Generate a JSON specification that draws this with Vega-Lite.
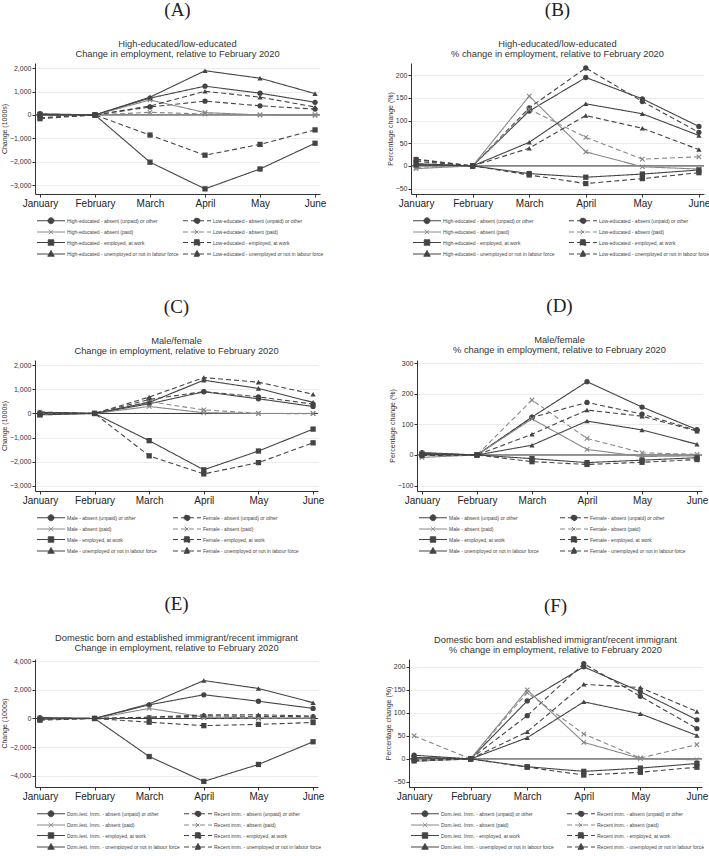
{
"$schema": "https://vega.github.io/schema/vega-lite/v6.json",
"background": "white",
"padding": {"left": 0, "top": 0, "right": 0, "bottom": 0},
"config": {
  "font": "Liberation Sans",
  "view": {"stroke": null},
  "axis": {"domainColor": "#333", "tickColor": "#333", "tickSize": 3, "labelColor": "#333", "titleColor": "#333", "titleFontWeight": "normal", "grid": false},
  "axisX": {"labelFontSize": 10, "labelPadding": 1, "labelAngle": 0, "labelColor": "#222"},
  "axisY": {"grid": true, "gridColor": "#ececec", "labelFontSize": 7, "titleFontSize": 7, "labelPadding": 1, "titlePadding": 2, "labelOverlap": false, "tickCount": 12},
  "title": {"font": "Liberation Serif", "fontSize": 19, "fontWeight": "normal", "color": "#222", "subtitleFont": "Liberation Sans", "subtitleFontSize": 9.3, "subtitleColor": "#333", "subtitleLineHeight": 10, "subtitlePadding": 20, "offset": 0, "anchor": "middle"},
  "legend": {"orient": "bottom", "offset": 7, "columns": 2, "symbolSize": 100, "labelFontSize": 5, "labelColor": "#444", "labelOffset": 21, "rowPadding": 0.5, "columnPadding": 6, "symbolStrokeWidth": 1, "labelLimit": 0, "padding": 0}
},
"datasets": {
"A": [
{"series":"High-educated - absent (unpaid) or other","month":"January","value":50},{"series":"High-educated - absent (unpaid) or other","month":"February","value":0},{"series":"High-educated - absent (unpaid) or other","month":"March","value":720},{"series":"High-educated - absent (unpaid) or other","month":"April","value":1230},{"series":"High-educated - absent (unpaid) or other","month":"May","value":930},{"series":"High-educated - absent (unpaid) or other","month":"June","value":540},
{"series":"Low-educated - absent (unpaid) or other","month":"January","value":-20},{"series":"Low-educated - absent (unpaid) or other","month":"February","value":0},{"series":"Low-educated - absent (unpaid) or other","month":"March","value":340},{"series":"Low-educated - absent (unpaid) or other","month":"April","value":590},{"series":"Low-educated - absent (unpaid) or other","month":"May","value":390},{"series":"Low-educated - absent (unpaid) or other","month":"June","value":250},
{"series":"High-educated - absent (paid)","month":"January","value":20},{"series":"High-educated - absent (paid)","month":"February","value":0},{"series":"High-educated - absent (paid)","month":"March","value":640},{"series":"High-educated - absent (paid)","month":"April","value":100},{"series":"High-educated - absent (paid)","month":"May","value":0},{"series":"High-educated - absent (paid)","month":"June","value":-20},
{"series":"Low-educated - absent (paid)","month":"January","value":-20},{"series":"Low-educated - absent (paid)","month":"February","value":0},{"series":"Low-educated - absent (paid)","month":"March","value":110},{"series":"Low-educated - absent (paid)","month":"April","value":40},{"series":"Low-educated - absent (paid)","month":"May","value":0},{"series":"Low-educated - absent (paid)","month":"June","value":10},
{"series":"High-educated - employed, at work","month":"January","value":20},{"series":"High-educated - employed, at work","month":"February","value":0},{"series":"High-educated - employed, at work","month":"March","value":-2020},{"series":"High-educated - employed, at work","month":"April","value":-3160},{"series":"High-educated - employed, at work","month":"May","value":-2310},{"series":"High-educated - employed, at work","month":"June","value":-1210},
{"series":"Low-educated - employed, at work","month":"January","value":-160},{"series":"Low-educated - employed, at work","month":"February","value":0},{"series":"Low-educated - employed, at work","month":"March","value":-860},{"series":"Low-educated - employed, at work","month":"April","value":-1720},{"series":"Low-educated - employed, at work","month":"May","value":-1260},{"series":"Low-educated - employed, at work","month":"June","value":-640},
{"series":"High-educated - unemployed or not in labour force","month":"January","value":0},{"series":"High-educated - unemployed or not in labour force","month":"February","value":0},{"series":"High-educated - unemployed or not in labour force","month":"March","value":760},{"series":"High-educated - unemployed or not in labour force","month":"April","value":1890},{"series":"High-educated - unemployed or not in labour force","month":"May","value":1570},{"series":"High-educated - unemployed or not in labour force","month":"June","value":910},
{"series":"Low-educated - unemployed or not in labour force","month":"January","value":-120},{"series":"Low-educated - unemployed or not in labour force","month":"February","value":0},{"series":"Low-educated - unemployed or not in labour force","month":"March","value":380},{"series":"Low-educated - unemployed or not in labour force","month":"April","value":1010},{"series":"Low-educated - unemployed or not in labour force","month":"May","value":760},{"series":"Low-educated - unemployed or not in labour force","month":"June","value":340}
],
"B": [
{"series":"High-educated - absent (unpaid) or other","month":"January","value":3},{"series":"High-educated - absent (unpaid) or other","month":"February","value":0},{"series":"High-educated - absent (unpaid) or other","month":"March","value":121},{"series":"High-educated - absent (unpaid) or other","month":"April","value":195},{"series":"High-educated - absent (unpaid) or other","month":"May","value":148},{"series":"High-educated - absent (unpaid) or other","month":"June","value":87},
{"series":"Low-educated - absent (unpaid) or other","month":"January","value":10},{"series":"Low-educated - absent (unpaid) or other","month":"February","value":0},{"series":"Low-educated - absent (unpaid) or other","month":"March","value":128},{"series":"Low-educated - absent (unpaid) or other","month":"April","value":216},{"series":"Low-educated - absent (unpaid) or other","month":"May","value":142},{"series":"Low-educated - absent (unpaid) or other","month":"June","value":74},
{"series":"High-educated - absent (paid)","month":"January","value":-6},{"series":"High-educated - absent (paid)","month":"February","value":0},{"series":"High-educated - absent (paid)","month":"March","value":154},{"series":"High-educated - absent (paid)","month":"April","value":31},{"series":"High-educated - absent (paid)","month":"May","value":-2},{"series":"High-educated - absent (paid)","month":"June","value":-7},
{"series":"Low-educated - absent (paid)","month":"January","value":-3},{"series":"Low-educated - absent (paid)","month":"February","value":0},{"series":"Low-educated - absent (paid)","month":"March","value":125},{"series":"Low-educated - absent (paid)","month":"April","value":63},{"series":"Low-educated - absent (paid)","month":"May","value":15},{"series":"Low-educated - absent (paid)","month":"June","value":20},
{"series":"High-educated - employed, at work","month":"January","value":2},{"series":"High-educated - employed, at work","month":"February","value":0},{"series":"High-educated - employed, at work","month":"March","value":-17},{"series":"High-educated - employed, at work","month":"April","value":-25},{"series":"High-educated - employed, at work","month":"May","value":-18},{"series":"High-educated - employed, at work","month":"June","value":-9},
{"series":"Low-educated - employed, at work","month":"January","value":14},{"series":"Low-educated - employed, at work","month":"February","value":0},{"series":"Low-educated - employed, at work","month":"March","value":-20},{"series":"Low-educated - employed, at work","month":"April","value":-39},{"series":"Low-educated - employed, at work","month":"May","value":-28},{"series":"Low-educated - employed, at work","month":"June","value":-15},
{"series":"High-educated - unemployed or not in labour force","month":"January","value":5},{"series":"High-educated - unemployed or not in labour force","month":"February","value":0},{"series":"High-educated - unemployed or not in labour force","month":"March","value":52},{"series":"High-educated - unemployed or not in labour force","month":"April","value":137},{"series":"High-educated - unemployed or not in labour force","month":"May","value":115},{"series":"High-educated - unemployed or not in labour force","month":"June","value":67},
{"series":"Low-educated - unemployed or not in labour force","month":"January","value":15},{"series":"Low-educated - unemployed or not in labour force","month":"February","value":0},{"series":"Low-educated - unemployed or not in labour force","month":"March","value":39},{"series":"Low-educated - unemployed or not in labour force","month":"April","value":111},{"series":"Low-educated - unemployed or not in labour force","month":"May","value":83},{"series":"Low-educated - unemployed or not in labour force","month":"June","value":36}
],
"C": [
{"series":"Male - absent (unpaid) or other","month":"January","value":30},{"series":"Male - absent (unpaid) or other","month":"February","value":0},{"series":"Male - absent (unpaid) or other","month":"March","value":400},{"series":"Male - absent (unpaid) or other","month":"April","value":900},{"series":"Male - absent (unpaid) or other","month":"May","value":610},{"series":"Male - absent (unpaid) or other","month":"June","value":290},
{"series":"Female - absent (unpaid) or other","month":"January","value":0},{"series":"Female - absent (unpaid) or other","month":"February","value":0},{"series":"Female - absent (unpaid) or other","month":"March","value":580},{"series":"Female - absent (unpaid) or other","month":"April","value":910},{"series":"Female - absent (unpaid) or other","month":"May","value":690},{"series":"Female - absent (unpaid) or other","month":"June","value":390},
{"series":"Male - absent (paid)","month":"January","value":50},{"series":"Male - absent (paid)","month":"February","value":0},{"series":"Male - absent (paid)","month":"March","value":290},{"series":"Male - absent (paid)","month":"April","value":30},{"series":"Male - absent (paid)","month":"May","value":0},{"series":"Male - absent (paid)","month":"June","value":0},
{"series":"Female - absent (paid)","month":"January","value":0},{"series":"Female - absent (paid)","month":"February","value":0},{"series":"Female - absent (paid)","month":"March","value":490},{"series":"Female - absent (paid)","month":"April","value":150},{"series":"Female - absent (paid)","month":"May","value":0},{"series":"Female - absent (paid)","month":"June","value":-10},
{"series":"Male - employed, at work","month":"January","value":-60},{"series":"Male - employed, at work","month":"February","value":0},{"series":"Male - employed, at work","month":"March","value":-1130},{"series":"Male - employed, at work","month":"April","value":-2340},{"series":"Male - employed, at work","month":"May","value":-1560},{"series":"Male - employed, at work","month":"June","value":-650},
{"series":"Female - employed, at work","month":"January","value":-40},{"series":"Female - employed, at work","month":"February","value":0},{"series":"Female - employed, at work","month":"March","value":-1760},{"series":"Female - employed, at work","month":"April","value":-2510},{"series":"Female - employed, at work","month":"May","value":-2040},{"series":"Female - employed, at work","month":"June","value":-1220},
{"series":"Male - unemployed or not in labour force","month":"January","value":40},{"series":"Male - unemployed or not in labour force","month":"February","value":0},{"series":"Male - unemployed or not in labour force","month":"March","value":460},{"series":"Male - unemployed or not in labour force","month":"April","value":1380},{"series":"Male - unemployed or not in labour force","month":"May","value":1040},{"series":"Male - unemployed or not in labour force","month":"June","value":460},
{"series":"Female - unemployed or not in labour force","month":"January","value":60},{"series":"Female - unemployed or not in labour force","month":"February","value":0},{"series":"Female - unemployed or not in labour force","month":"March","value":680},{"series":"Female - unemployed or not in labour force","month":"April","value":1490},{"series":"Female - unemployed or not in labour force","month":"May","value":1300},{"series":"Female - unemployed or not in labour force","month":"June","value":800}
],
"D": [
{"series":"Male - absent (unpaid) or other","month":"January","value":8},{"series":"Male - absent (unpaid) or other","month":"February","value":0},{"series":"Male - absent (unpaid) or other","month":"March","value":124},{"series":"Male - absent (unpaid) or other","month":"April","value":240},{"series":"Male - absent (unpaid) or other","month":"May","value":157},{"series":"Male - absent (unpaid) or other","month":"June","value":83},
{"series":"Female - absent (unpaid) or other","month":"January","value":3},{"series":"Female - absent (unpaid) or other","month":"February","value":0},{"series":"Female - absent (unpaid) or other","month":"March","value":123},{"series":"Female - absent (unpaid) or other","month":"April","value":172},{"series":"Female - absent (unpaid) or other","month":"May","value":134},{"series":"Female - absent (unpaid) or other","month":"June","value":80},
{"series":"Male - absent (paid)","month":"January","value":-8},{"series":"Male - absent (paid)","month":"February","value":0},{"series":"Male - absent (paid)","month":"March","value":118},{"series":"Male - absent (paid)","month":"April","value":18},{"series":"Male - absent (paid)","month":"May","value":-5},{"series":"Male - absent (paid)","month":"June","value":-3},
{"series":"Female - absent (paid)","month":"January","value":5},{"series":"Female - absent (paid)","month":"February","value":0},{"series":"Female - absent (paid)","month":"March","value":180},{"series":"Female - absent (paid)","month":"April","value":54},{"series":"Female - absent (paid)","month":"May","value":7},{"series":"Female - absent (paid)","month":"June","value":2},
{"series":"Male - employed, at work","month":"January","value":2},{"series":"Male - employed, at work","month":"February","value":0},{"series":"Male - employed, at work","month":"March","value":-12},{"series":"Male - employed, at work","month":"April","value":-25},{"series":"Male - employed, at work","month":"May","value":-17},{"series":"Male - employed, at work","month":"June","value":-9},
{"series":"Female - employed, at work","month":"January","value":-2},{"series":"Female - employed, at work","month":"February","value":0},{"series":"Female - employed, at work","month":"March","value":-22},{"series":"Female - employed, at work","month":"April","value":-31},{"series":"Female - employed, at work","month":"May","value":-24},{"series":"Female - employed, at work","month":"June","value":-15},
{"series":"Male - unemployed or not in labour force","month":"January","value":5},{"series":"Male - unemployed or not in labour force","month":"February","value":0},{"series":"Male - unemployed or not in labour force","month":"March","value":32},{"series":"Male - unemployed or not in labour force","month":"April","value":111},{"series":"Male - unemployed or not in labour force","month":"May","value":82},{"series":"Male - unemployed or not in labour force","month":"June","value":35},
{"series":"Female - unemployed or not in labour force","month":"January","value":3},{"series":"Female - unemployed or not in labour force","month":"February","value":0},{"series":"Female - unemployed or not in labour force","month":"March","value":68},{"series":"Female - unemployed or not in labour force","month":"April","value":147},{"series":"Female - unemployed or not in labour force","month":"May","value":127},{"series":"Female - unemployed or not in labour force","month":"June","value":78}
],
"E": [
{"series":"Dom./est. Imm. - absent (unpaid) or other","month":"January","value":50},{"series":"Dom./est. Imm. - absent (unpaid) or other","month":"February","value":0},{"series":"Dom./est. Imm. - absent (unpaid) or other","month":"March","value":950},{"series":"Dom./est. Imm. - absent (unpaid) or other","month":"April","value":1650},{"series":"Dom./est. Imm. - absent (unpaid) or other","month":"May","value":1200},{"series":"Dom./est. Imm. - absent (unpaid) or other","month":"June","value":700},
{"series":"Recent imm. - absent (unpaid) or other","month":"January","value":0},{"series":"Recent imm. - absent (unpaid) or other","month":"February","value":0},{"series":"Recent imm. - absent (unpaid) or other","month":"March","value":60},{"series":"Recent imm. - absent (unpaid) or other","month":"April","value":180},{"series":"Recent imm. - absent (unpaid) or other","month":"May","value":150},{"series":"Recent imm. - absent (unpaid) or other","month":"June","value":120},
{"series":"Dom./est. Imm. - absent (paid)","month":"January","value":30},{"series":"Dom./est. Imm. - absent (paid)","month":"February","value":0},{"series":"Dom./est. Imm. - absent (paid)","month":"March","value":700},{"series":"Dom./est. Imm. - absent (paid)","month":"April","value":100},{"series":"Dom./est. Imm. - absent (paid)","month":"May","value":50},{"series":"Dom./est. Imm. - absent (paid)","month":"June","value":20},
{"series":"Recent imm. - absent (paid)","month":"January","value":0},{"series":"Recent imm. - absent (paid)","month":"February","value":0},{"series":"Recent imm. - absent (paid)","month":"March","value":80},{"series":"Recent imm. - absent (paid)","month":"April","value":60},{"series":"Recent imm. - absent (paid)","month":"May","value":10},{"series":"Recent imm. - absent (paid)","month":"June","value":40},
{"series":"Dom./est. Imm. - employed, at work","month":"January","value":-50},{"series":"Dom./est. Imm. - employed, at work","month":"February","value":0},{"series":"Dom./est. Imm. - employed, at work","month":"March","value":-2650},{"series":"Dom./est. Imm. - employed, at work","month":"April","value":-4380},{"series":"Dom./est. Imm. - employed, at work","month":"May","value":-3200},{"series":"Dom./est. Imm. - employed, at work","month":"June","value":-1620},
{"series":"Recent imm. - employed, at work","month":"January","value":-120},{"series":"Recent imm. - employed, at work","month":"February","value":0},{"series":"Recent imm. - employed, at work","month":"March","value":-260},{"series":"Recent imm. - employed, at work","month":"April","value":-500},{"series":"Recent imm. - employed, at work","month":"May","value":-410},{"series":"Recent imm. - employed, at work","month":"June","value":-280},
{"series":"Dom./est. Imm. - unemployed or not in labour force","month":"January","value":50},{"series":"Dom./est. Imm. - unemployed or not in labour force","month":"February","value":0},{"series":"Dom./est. Imm. - unemployed or not in labour force","month":"March","value":1010},{"series":"Dom./est. Imm. - unemployed or not in labour force","month":"April","value":2640},{"series":"Dom./est. Imm. - unemployed or not in labour force","month":"May","value":2090},{"series":"Dom./est. Imm. - unemployed or not in labour force","month":"June","value":1100},
{"series":"Recent imm. - unemployed or not in labour force","month":"January","value":-30},{"series":"Recent imm. - unemployed or not in labour force","month":"February","value":0},{"series":"Recent imm. - unemployed or not in labour force","month":"March","value":90},{"series":"Recent imm. - unemployed or not in labour force","month":"April","value":250},{"series":"Recent imm. - unemployed or not in labour force","month":"May","value":260},{"series":"Recent imm. - unemployed or not in labour force","month":"June","value":170}
],
"F": [
{"series":"Dom./est. Imm. - absent (unpaid) or other","month":"January","value":8},{"series":"Dom./est. Imm. - absent (unpaid) or other","month":"February","value":0},{"series":"Dom./est. Imm. - absent (unpaid) or other","month":"March","value":126},{"series":"Dom./est. Imm. - absent (unpaid) or other","month":"April","value":200},{"series":"Dom./est. Imm. - absent (unpaid) or other","month":"May","value":146},{"series":"Dom./est. Imm. - absent (unpaid) or other","month":"June","value":85},
{"series":"Recent imm. - absent (unpaid) or other","month":"January","value":-3},{"series":"Recent imm. - absent (unpaid) or other","month":"February","value":0},{"series":"Recent imm. - absent (unpaid) or other","month":"March","value":94},{"series":"Recent imm. - absent (unpaid) or other","month":"April","value":207},{"series":"Recent imm. - absent (unpaid) or other","month":"May","value":136},{"series":"Recent imm. - absent (unpaid) or other","month":"June","value":66},
{"series":"Dom./est. Imm. - absent (paid)","month":"January","value":-5},{"series":"Dom./est. Imm. - absent (paid)","month":"February","value":0},{"series":"Dom./est. Imm. - absent (paid)","month":"March","value":150},{"series":"Dom./est. Imm. - absent (paid)","month":"April","value":36},{"series":"Dom./est. Imm. - absent (paid)","month":"May","value":1},{"series":"Dom./est. Imm. - absent (paid)","month":"June","value":-2},
{"series":"Recent imm. - absent (paid)","month":"January","value":50},{"series":"Recent imm. - absent (paid)","month":"February","value":0},{"series":"Recent imm. - absent (paid)","month":"March","value":144},{"series":"Recent imm. - absent (paid)","month":"April","value":54},{"series":"Recent imm. - absent (paid)","month":"May","value":2},{"series":"Recent imm. - absent (paid)","month":"June","value":31},
{"series":"Dom./est. Imm. - employed, at work","month":"January","value":3},{"series":"Dom./est. Imm. - employed, at work","month":"February","value":0},{"series":"Dom./est. Imm. - employed, at work","month":"March","value":-17},{"series":"Dom./est. Imm. - employed, at work","month":"April","value":-27},{"series":"Dom./est. Imm. - employed, at work","month":"May","value":-20},{"series":"Dom./est. Imm. - employed, at work","month":"June","value":-10},
{"series":"Recent imm. - employed, at work","month":"January","value":-3},{"series":"Recent imm. - employed, at work","month":"February","value":0},{"series":"Recent imm. - employed, at work","month":"March","value":-18},{"series":"Recent imm. - employed, at work","month":"April","value":-35},{"series":"Recent imm. - employed, at work","month":"May","value":-29},{"series":"Recent imm. - employed, at work","month":"June","value":-18},
{"series":"Dom./est. Imm. - unemployed or not in labour force","month":"January","value":3},{"series":"Dom./est. Imm. - unemployed or not in labour force","month":"February","value":0},{"series":"Dom./est. Imm. - unemployed or not in labour force","month":"March","value":46},{"series":"Dom./est. Imm. - unemployed or not in labour force","month":"April","value":124},{"series":"Dom./est. Imm. - unemployed or not in labour force","month":"May","value":98},{"series":"Dom./est. Imm. - unemployed or not in labour force","month":"June","value":51},
{"series":"Recent imm. - unemployed or not in labour force","month":"January","value":-5},{"series":"Recent imm. - unemployed or not in labour force","month":"February","value":0},{"series":"Recent imm. - unemployed or not in labour force","month":"March","value":59},{"series":"Recent imm. - unemployed or not in labour force","month":"April","value":162},{"series":"Recent imm. - unemployed or not in labour force","month":"May","value":155},{"series":"Recent imm. - unemployed or not in labour force","month":"June","value":103}
]
},
"resolve": {"scale": {"x": "independent", "y": "independent", "color": "independent", "strokeDash": "independent", "shape": "independent"}, "legend": {"color": "independent"}},
"spacing": 38,
"vconcat": [
{"hconcat": [
 {"width": 285, "height": 131,
  "title": {"text": "(A)", "subtitle": ["High-educated/low-educated", "Change in employment, relative to February 2020"]},
  "data": {"name": "A"},
  "layer": [
   {"data": {"values": [{}]}, "mark": {"type": "rule", "color": "#333", "strokeWidth": 1}, "encoding": {"y": {"datum": 0, "type": "quantitative"}}},
   {"mark": {"type": "line", "strokeWidth": 1.1},
    "encoding": {
     "x": {"field": "month", "type": "ordinal", "sort": ["January","February","March","April","May","June"], "scale": {"type": "point", "padding": 0.09}, "axis": {"title": null}},
     "y": {"field": "value", "type": "quantitative", "scale": {"domain": [-3380, 2220], "nice": false, "zero": false}, "axis": {"title": "Change (1000s)", "values": [-3000,-2000,-1000,0,1000,2000], "tickCount": 12, "format": ",d"}},
     "color": {"field": "series", "type": "nominal", "scale": {"domain": ["High-educated - absent (unpaid) or other","Low-educated - absent (unpaid) or other","High-educated - absent (paid)","Low-educated - absent (paid)","High-educated - employed, at work","Low-educated - employed, at work","High-educated - unemployed or not in labour force","Low-educated - unemployed or not in labour force"], "range": ["#444","#444","#888","#888","#444","#444","#444","#444"]},
      "legend": {"title": null, "columnPadding": 2, "encode": {"symbols": {"update": {
        "shape": {"signal": "indexof(datum.value,'unpaid')>=0 ? 'M-0.7,0L4.9,0M2.7,0L2.62,0.3L2.4,0.52L2.1,0.6L1.8,0.52L1.58,0.3L1.5,0L1.58,-0.3L1.8,-0.52L2.1,-0.6L2.4,-0.52L2.62,-0.3Z' : indexof(datum.value,'(paid)')>=0 ? 'M-0.7,0L4.9,0M1.65,-0.45L2.55,0.45M1.65,0.45L2.55,-0.45' : indexof(datum.value,'at work')>=0 ? 'M-0.7,0L4.9,0M1.55,-0.55L2.65,-0.55L2.65,0.55L1.55,0.55Z' : 'M-0.7,0L4.9,0M2.1,-0.7L2.75,0.45L1.45,0.45Z'"},
        "strokeDash": {"signal": "(indexof(datum.value,'Low-')==0 || indexof(datum.value,'Female')==0 || indexof(datum.value,'Recent')==0) ? [5,3] : [1,0]"},
        "fill": {"signal": "indexof(datum.value,'(paid)')>=0 ? '#888' : '#444'"},
        "stroke": {"signal": "indexof(datum.value,'(paid)')>=0 ? '#888' : '#444'"},
        "opacity": {"value": 1}}}}}},
     "strokeDash": {"field": "series", "type": "nominal", "scale": {"domain": ["Low-educated - absent (unpaid) or other","High-educated - absent (unpaid) or other","Low-educated - absent (paid)","High-educated - absent (paid)","Low-educated - employed, at work","High-educated - employed, at work","Low-educated - unemployed or not in labour force","High-educated - unemployed or not in labour force"], "range": [[5,3],[1,0],[5,3],[1,0],[5,3],[1,0],[5,3],[1,0]]}, "legend": null}
    }},
   {"mark": {"type": "point", "filled": true, "opacity": 1, "size": 28},
    "encoding": {
     "x": {"field": "month", "type": "ordinal", "sort": ["January","February","March","April","May","June"]},
     "y": {"field": "value", "type": "quantitative"},
     "color": {"field": "series", "type": "nominal", "legend": null},
     "shape": {"field": "series", "type": "nominal", "scale": {"domain": ["Low-educated - unemployed or not in labour force","High-educated - unemployed or not in labour force","Low-educated - employed, at work","High-educated - employed, at work","Low-educated - absent (paid)","High-educated - absent (paid)","Low-educated - absent (unpaid) or other","High-educated - absent (unpaid) or other"], "range": ["triangle-up","triangle-up","square","square","M-1,-0.7L-0.7,-1L0,-0.3L0.7,-1L1,-0.7L0.3,0L1,0.7L0.7,1L0,0.3L-0.7,1L-1,0.7L-0.3,0Z","M-1,-0.7L-0.7,-1L0,-0.3L0.7,-1L1,-0.7L0.3,0L1,0.7L0.7,1L0,0.3L-0.7,1L-1,0.7L-0.3,0Z","circle","circle"]}, "legend": null}
    }}
  ]},
 {"width": 293, "height": 131,
  "title": {"text": "(B)", "subtitle": ["High-educated/low-educated", "% change in employment, relative to February 2020"]},
  "data": {"name": "B"},
  "layer": [
   {"data": {"values": [{}]}, "mark": {"type": "rule", "color": "#333", "strokeWidth": 1}, "encoding": {"y": {"datum": 0, "type": "quantitative"}}},
   {"mark": {"type": "line", "strokeWidth": 1.1},
    "encoding": {
     "x": {"field": "month", "type": "ordinal", "sort": ["January","February","March","April","May","June"], "scale": {"type": "point", "padding": 0.09}, "axis": {"title": null}},
     "y": {"field": "value", "type": "quantitative", "scale": {"domain": [-62, 227], "nice": false, "zero": false}, "axis": {"title": "Percentage change (%)", "values": [-50,0,50,100,150,200], "tickCount": 12, "format": ",d"}},
     "color": {"field": "series", "type": "nominal", "scale": {"domain": ["High-educated - absent (unpaid) or other","Low-educated - absent (unpaid) or other","High-educated - absent (paid)","Low-educated - absent (paid)","High-educated - employed, at work","Low-educated - employed, at work","High-educated - unemployed or not in labour force","Low-educated - unemployed or not in labour force"], "range": ["#444","#444","#888","#888","#444","#444","#444","#444"]},
      "legend": {"title": null, "columnPadding": 12, "encode": {"symbols": {"update": {
        "shape": {"signal": "indexof(datum.value,'unpaid')>=0 ? 'M-0.7,0L4.9,0M2.7,0L2.62,0.3L2.4,0.52L2.1,0.6L1.8,0.52L1.58,0.3L1.5,0L1.58,-0.3L1.8,-0.52L2.1,-0.6L2.4,-0.52L2.62,-0.3Z' : indexof(datum.value,'(paid)')>=0 ? 'M-0.7,0L4.9,0M1.65,-0.45L2.55,0.45M1.65,0.45L2.55,-0.45' : indexof(datum.value,'at work')>=0 ? 'M-0.7,0L4.9,0M1.55,-0.55L2.65,-0.55L2.65,0.55L1.55,0.55Z' : 'M-0.7,0L4.9,0M2.1,-0.7L2.75,0.45L1.45,0.45Z'"},
        "strokeDash": {"signal": "(indexof(datum.value,'Low-')==0 || indexof(datum.value,'Female')==0 || indexof(datum.value,'Recent')==0) ? [5,3] : [1,0]"},
        "fill": {"signal": "indexof(datum.value,'(paid)')>=0 ? '#888' : '#444'"},
        "stroke": {"signal": "indexof(datum.value,'(paid)')>=0 ? '#888' : '#444'"},
        "opacity": {"value": 1}}}}}},
     "strokeDash": {"field": "series", "type": "nominal", "scale": {"domain": ["Low-educated - absent (unpaid) or other","High-educated - absent (unpaid) or other","Low-educated - absent (paid)","High-educated - absent (paid)","Low-educated - employed, at work","High-educated - employed, at work","Low-educated - unemployed or not in labour force","High-educated - unemployed or not in labour force"], "range": [[5,3],[1,0],[5,3],[1,0],[5,3],[1,0],[5,3],[1,0]]}, "legend": null}
    }},
   {"mark": {"type": "point", "filled": true, "opacity": 1, "size": 28},
    "encoding": {
     "x": {"field": "month", "type": "ordinal", "sort": ["January","February","March","April","May","June"]},
     "y": {"field": "value", "type": "quantitative"},
     "color": {"field": "series", "type": "nominal", "legend": null},
     "shape": {"field": "series", "type": "nominal", "scale": {"domain": ["Low-educated - unemployed or not in labour force","High-educated - unemployed or not in labour force","Low-educated - employed, at work","High-educated - employed, at work","Low-educated - absent (paid)","High-educated - absent (paid)","Low-educated - absent (unpaid) or other","High-educated - absent (unpaid) or other"], "range": ["triangle-up","triangle-up","square","square","M-1,-0.7L-0.7,-1L0,-0.3L0.7,-1L1,-0.7L0.3,0L1,0.7L0.7,1L0,0.3L-0.7,1L-1,0.7L-0.3,0Z","M-1,-0.7L-0.7,-1L0,-0.3L0.7,-1L1,-0.7L0.3,0L1,0.7L0.7,1L0,0.3L-0.7,1L-1,0.7L-0.3,0Z","circle","circle"]}, "legend": null}
    }}
  ]}
 ],
 "spacing": 60,
 "resolve": {"scale": {"x": "independent", "y": "independent", "color": "independent", "strokeDash": "independent", "shape": "independent"}, "legend": {"color": "independent"}}
},
{"hconcat": [
 {"width": 283, "height": 131,
  "title": {"text": "(C)", "subtitle": ["Male/female", "Change in employment, relative to February 2020"]},
  "data": {"name": "C"},
  "layer": [
   {"data": {"values": [{}]}, "mark": {"type": "rule", "color": "#333", "strokeWidth": 1}, "encoding": {"y": {"datum": 0, "type": "quantitative"}}},
   {"mark": {"type": "line", "strokeWidth": 1.1},
    "encoding": {
     "x": {"field": "month", "type": "ordinal", "sort": ["January","February","March","April","May","June"], "scale": {"type": "point", "padding": 0.09}, "axis": {"title": null}},
     "y": {"field": "value", "type": "quantitative", "scale": {"domain": [-3220, 2220], "nice": false, "zero": false}, "axis": {"title": "Change (1000s)", "values": [-3000,-2000,-1000,0,1000,2000], "tickCount": 12, "format": ",d"}},
     "color": {"field": "series", "type": "nominal", "scale": {"domain": ["Male - absent (unpaid) or other","Female - absent (unpaid) or other","Male - absent (paid)","Female - absent (paid)","Male - employed, at work","Female - employed, at work","Male - unemployed or not in labour force","Female - unemployed or not in labour force"], "range": ["#444","#444","#888","#888","#444","#444","#444","#444"]},
      "legend": {"title": null, "columnPadding": 14, "encode": {"symbols": {"update": {
        "shape": {"signal": "indexof(datum.value,'unpaid')>=0 ? 'M-0.7,0L4.9,0M2.7,0L2.62,0.3L2.4,0.52L2.1,0.6L1.8,0.52L1.58,0.3L1.5,0L1.58,-0.3L1.8,-0.52L2.1,-0.6L2.4,-0.52L2.62,-0.3Z' : indexof(datum.value,'(paid)')>=0 ? 'M-0.7,0L4.9,0M1.65,-0.45L2.55,0.45M1.65,0.45L2.55,-0.45' : indexof(datum.value,'at work')>=0 ? 'M-0.7,0L4.9,0M1.55,-0.55L2.65,-0.55L2.65,0.55L1.55,0.55Z' : 'M-0.7,0L4.9,0M2.1,-0.7L2.75,0.45L1.45,0.45Z'"},
        "strokeDash": {"signal": "(indexof(datum.value,'Low-')==0 || indexof(datum.value,'Female')==0 || indexof(datum.value,'Recent')==0) ? [5,3] : [1,0]"},
        "fill": {"signal": "indexof(datum.value,'(paid)')>=0 ? '#888' : '#444'"},
        "stroke": {"signal": "indexof(datum.value,'(paid)')>=0 ? '#888' : '#444'"},
        "opacity": {"value": 1}}}}}},
     "strokeDash": {"field": "series", "type": "nominal", "scale": {"domain": ["Female - absent (unpaid) or other","Male - absent (unpaid) or other","Female - absent (paid)","Male - absent (paid)","Female - employed, at work","Male - employed, at work","Female - unemployed or not in labour force","Male - unemployed or not in labour force"], "range": [[5,3],[1,0],[5,3],[1,0],[5,3],[1,0],[5,3],[1,0]]}, "legend": null}
    }},
   {"mark": {"type": "point", "filled": true, "opacity": 1, "size": 28},
    "encoding": {
     "x": {"field": "month", "type": "ordinal", "sort": ["January","February","March","April","May","June"]},
     "y": {"field": "value", "type": "quantitative"},
     "color": {"field": "series", "type": "nominal", "legend": null},
     "shape": {"field": "series", "type": "nominal", "scale": {"domain": ["Female - unemployed or not in labour force","Male - unemployed or not in labour force","Female - employed, at work","Male - employed, at work","Female - absent (paid)","Male - absent (paid)","Female - absent (unpaid) or other","Male - absent (unpaid) or other"], "range": ["triangle-up","triangle-up","square","square","M-1,-0.7L-0.7,-1L0,-0.3L0.7,-1L1,-0.7L0.3,0L1,0.7L0.7,1L0,0.3L-0.7,1L-1,0.7L-0.3,0Z","M-1,-0.7L-0.7,-1L0,-0.3L0.7,-1L1,-0.7L0.3,0L1,0.7L0.7,1L0,0.3L-0.7,1L-1,0.7L-0.3,0Z","circle","circle"]}, "legend": null}
    }}
  ]},
 {"width": 285, "height": 131,
  "title": {"text": "(D)", "subtitle": ["Male/female", "% change in employment, relative to February 2020"]},
  "data": {"name": "D"},
  "layer": [
   {"data": {"values": [{}]}, "mark": {"type": "rule", "color": "#333", "strokeWidth": 1}, "encoding": {"y": {"datum": 0, "type": "quantitative"}}},
   {"mark": {"type": "line", "strokeWidth": 1.1},
    "encoding": {
     "x": {"field": "month", "type": "ordinal", "sort": ["January","February","March","April","May","June"], "scale": {"type": "point", "padding": 0.09}, "axis": {"title": null}},
     "y": {"field": "value", "type": "quantitative", "scale": {"domain": [-118, 311], "nice": false, "zero": false}, "axis": {"title": "Percentage change (%)", "values": [-100,0,100,200,300], "tickCount": 12, "format": ",d"}},
     "color": {"field": "series", "type": "nominal", "scale": {"domain": ["Male - absent (unpaid) or other","Female - absent (unpaid) or other","Male - absent (paid)","Female - absent (paid)","Male - employed, at work","Female - employed, at work","Male - unemployed or not in labour force","Female - unemployed or not in labour force"], "range": ["#444","#444","#888","#888","#444","#444","#444","#444"]},
      "legend": {"title": null, "columnPadding": 19, "encode": {"symbols": {"update": {
        "shape": {"signal": "indexof(datum.value,'unpaid')>=0 ? 'M-0.7,0L4.9,0M2.7,0L2.62,0.3L2.4,0.52L2.1,0.6L1.8,0.52L1.58,0.3L1.5,0L1.58,-0.3L1.8,-0.52L2.1,-0.6L2.4,-0.52L2.62,-0.3Z' : indexof(datum.value,'(paid)')>=0 ? 'M-0.7,0L4.9,0M1.65,-0.45L2.55,0.45M1.65,0.45L2.55,-0.45' : indexof(datum.value,'at work')>=0 ? 'M-0.7,0L4.9,0M1.55,-0.55L2.65,-0.55L2.65,0.55L1.55,0.55Z' : 'M-0.7,0L4.9,0M2.1,-0.7L2.75,0.45L1.45,0.45Z'"},
        "strokeDash": {"signal": "(indexof(datum.value,'Low-')==0 || indexof(datum.value,'Female')==0 || indexof(datum.value,'Recent')==0) ? [5,3] : [1,0]"},
        "fill": {"signal": "indexof(datum.value,'(paid)')>=0 ? '#888' : '#444'"},
        "stroke": {"signal": "indexof(datum.value,'(paid)')>=0 ? '#888' : '#444'"},
        "opacity": {"value": 1}}}}}},
     "strokeDash": {"field": "series", "type": "nominal", "scale": {"domain": ["Female - absent (unpaid) or other","Male - absent (unpaid) or other","Female - absent (paid)","Male - absent (paid)","Female - employed, at work","Male - employed, at work","Female - unemployed or not in labour force","Male - unemployed or not in labour force"], "range": [[5,3],[1,0],[5,3],[1,0],[5,3],[1,0],[5,3],[1,0]]}, "legend": null}
    }},
   {"mark": {"type": "point", "filled": true, "opacity": 1, "size": 28},
    "encoding": {
     "x": {"field": "month", "type": "ordinal", "sort": ["January","February","March","April","May","June"]},
     "y": {"field": "value", "type": "quantitative"},
     "color": {"field": "series", "type": "nominal", "legend": null},
     "shape": {"field": "series", "type": "nominal", "scale": {"domain": ["Female - unemployed or not in labour force","Male - unemployed or not in labour force","Female - employed, at work","Male - employed, at work","Female - absent (paid)","Male - absent (paid)","Female - absent (unpaid) or other","Male - absent (unpaid) or other"], "range": ["triangle-up","triangle-up","square","square","M-1,-0.7L-0.7,-1L0,-0.3L0.7,-1L1,-0.7L0.3,0L1,0.7L0.7,1L0,0.3L-0.7,1L-1,0.7L-0.3,0Z","M-1,-0.7L-0.7,-1L0,-0.3L0.7,-1L1,-0.7L0.3,0L1,0.7L0.7,1L0,0.3L-0.7,1L-1,0.7L-0.3,0Z","circle","circle"]}, "legend": null}
    }}
  ]}
 ],
 "spacing": 64,
 "resolve": {"scale": {"x": "independent", "y": "independent", "color": "independent", "strokeDash": "independent", "shape": "independent"}, "legend": {"color": "independent"}}
},
{"hconcat": [
 {"width": 283, "height": 128,
  "title": {"text": "(E)", "subtitle": ["Domestic born and established immigrant/recent immigrant", "Change in employment, relative to February 2020"]},
  "data": {"name": "E"},
  "layer": [
   {"data": {"values": [{}]}, "mark": {"type": "rule", "color": "#333", "strokeWidth": 1}, "encoding": {"y": {"datum": 0, "type": "quantitative"}}},
   {"mark": {"type": "line", "strokeWidth": 1.1},
    "encoding": {
     "x": {"field": "month", "type": "ordinal", "sort": ["January","February","March","April","May","June"], "scale": {"type": "point", "padding": 0.09}, "axis": {"title": null}},
     "y": {"field": "value", "type": "quantitative", "scale": {"domain": [-4770, 4140], "nice": false, "zero": false}, "axis": {"title": "Change (1000s)", "values": [-4000,-2000,0,2000,4000], "tickCount": 12, "format": ",d"}},
     "color": {"field": "series", "type": "nominal", "scale": {"domain": ["Dom./est. Imm. - absent (unpaid) or other","Recent imm. - absent (unpaid) or other","Dom./est. Imm. - absent (paid)","Recent imm. - absent (paid)","Dom./est. Imm. - employed, at work","Recent imm. - employed, at work","Dom./est. Imm. - unemployed or not in labour force","Recent imm. - unemployed or not in labour force"], "range": ["#444","#444","#888","#888","#444","#444","#444","#444"]},
      "legend": {"title": null, "columnPadding": 2, "encode": {"symbols": {"update": {
        "shape": {"signal": "indexof(datum.value,'unpaid')>=0 ? 'M-0.7,0L4.9,0M2.7,0L2.62,0.3L2.4,0.52L2.1,0.6L1.8,0.52L1.58,0.3L1.5,0L1.58,-0.3L1.8,-0.52L2.1,-0.6L2.4,-0.52L2.62,-0.3Z' : indexof(datum.value,'(paid)')>=0 ? 'M-0.7,0L4.9,0M1.65,-0.45L2.55,0.45M1.65,0.45L2.55,-0.45' : indexof(datum.value,'at work')>=0 ? 'M-0.7,0L4.9,0M1.55,-0.55L2.65,-0.55L2.65,0.55L1.55,0.55Z' : 'M-0.7,0L4.9,0M2.1,-0.7L2.75,0.45L1.45,0.45Z'"},
        "strokeDash": {"signal": "(indexof(datum.value,'Low-')==0 || indexof(datum.value,'Female')==0 || indexof(datum.value,'Recent')==0) ? [5,3] : [1,0]"},
        "fill": {"signal": "indexof(datum.value,'(paid)')>=0 ? '#888' : '#444'"},
        "stroke": {"signal": "indexof(datum.value,'(paid)')>=0 ? '#888' : '#444'"},
        "opacity": {"value": 1}}}}}},
     "strokeDash": {"field": "series", "type": "nominal", "scale": {"domain": ["Recent imm. - absent (unpaid) or other","Dom./est. Imm. - absent (unpaid) or other","Recent imm. - absent (paid)","Dom./est. Imm. - absent (paid)","Recent imm. - employed, at work","Dom./est. Imm. - employed, at work","Recent imm. - unemployed or not in labour force","Dom./est. Imm. - unemployed or not in labour force"], "range": [[5,3],[1,0],[5,3],[1,0],[5,3],[1,0],[5,3],[1,0]]}, "legend": null}
    }},
   {"mark": {"type": "point", "filled": true, "opacity": 1, "size": 28},
    "encoding": {
     "x": {"field": "month", "type": "ordinal", "sort": ["January","February","March","April","May","June"]},
     "y": {"field": "value", "type": "quantitative"},
     "color": {"field": "series", "type": "nominal", "legend": null},
     "shape": {"field": "series", "type": "nominal", "scale": {"domain": ["Recent imm. - unemployed or not in labour force","Dom./est. Imm. - unemployed or not in labour force","Recent imm. - employed, at work","Dom./est. Imm. - employed, at work","Recent imm. - absent (paid)","Dom./est. Imm. - absent (paid)","Recent imm. - absent (unpaid) or other","Dom./est. Imm. - absent (unpaid) or other"], "range": ["triangle-up","triangle-up","square","square","M-1,-0.7L-0.7,-1L0,-0.3L0.7,-1L1,-0.7L0.3,0L1,0.7L0.7,1L0,0.3L-0.7,1L-1,0.7L-0.3,0Z","M-1,-0.7L-0.7,-1L0,-0.3L0.7,-1L1,-0.7L0.3,0L1,0.7L0.7,1L0,0.3L-0.7,1L-1,0.7L-0.3,0Z","circle","circle"]}, "legend": null}
    }}
  ]},
 {"width": 293, "height": 128,
  "title": {"text": "(F)", "subtitle": ["Domestic born and established immigrant/recent immigrant", "% change in employment, relative to February 2020"]},
  "data": {"name": "F"},
  "layer": [
   {"data": {"values": [{}]}, "mark": {"type": "rule", "color": "#333", "strokeWidth": 1}, "encoding": {"y": {"datum": 0, "type": "quantitative"}}},
   {"mark": {"type": "line", "strokeWidth": 1.1},
    "encoding": {
     "x": {"field": "month", "type": "ordinal", "sort": ["January","February","March","April","May","June"], "scale": {"type": "point", "padding": 0.09}, "axis": {"title": null}},
     "y": {"field": "value", "type": "quantitative", "scale": {"domain": [-61, 217], "nice": false, "zero": false}, "axis": {"title": "Percentage change (%)", "values": [-50,0,50,100,150,200], "tickCount": 12, "format": ",d"}},
     "color": {"field": "series", "type": "nominal", "scale": {"domain": ["Dom./est. Imm. - absent (unpaid) or other","Recent imm. - absent (unpaid) or other","Dom./est. Imm. - absent (paid)","Recent imm. - absent (paid)","Dom./est. Imm. - employed, at work","Recent imm. - employed, at work","Dom./est. Imm. - unemployed or not in labour force","Recent imm. - unemployed or not in labour force"], "range": ["#444","#444","#888","#888","#444","#444","#444","#444"]},
      "legend": {"title": null, "columnPadding": 11, "encode": {"symbols": {"update": {
        "shape": {"signal": "indexof(datum.value,'unpaid')>=0 ? 'M-0.7,0L4.9,0M2.7,0L2.62,0.3L2.4,0.52L2.1,0.6L1.8,0.52L1.58,0.3L1.5,0L1.58,-0.3L1.8,-0.52L2.1,-0.6L2.4,-0.52L2.62,-0.3Z' : indexof(datum.value,'(paid)')>=0 ? 'M-0.7,0L4.9,0M1.65,-0.45L2.55,0.45M1.65,0.45L2.55,-0.45' : indexof(datum.value,'at work')>=0 ? 'M-0.7,0L4.9,0M1.55,-0.55L2.65,-0.55L2.65,0.55L1.55,0.55Z' : 'M-0.7,0L4.9,0M2.1,-0.7L2.75,0.45L1.45,0.45Z'"},
        "strokeDash": {"signal": "(indexof(datum.value,'Low-')==0 || indexof(datum.value,'Female')==0 || indexof(datum.value,'Recent')==0) ? [5,3] : [1,0]"},
        "fill": {"signal": "indexof(datum.value,'(paid)')>=0 ? '#888' : '#444'"},
        "stroke": {"signal": "indexof(datum.value,'(paid)')>=0 ? '#888' : '#444'"},
        "opacity": {"value": 1}}}}}},
     "strokeDash": {"field": "series", "type": "nominal", "scale": {"domain": ["Recent imm. - absent (unpaid) or other","Dom./est. Imm. - absent (unpaid) or other","Recent imm. - absent (paid)","Dom./est. Imm. - absent (paid)","Recent imm. - employed, at work","Dom./est. Imm. - employed, at work","Recent imm. - unemployed or not in labour force","Dom./est. Imm. - unemployed or not in labour force"], "range": [[5,3],[1,0],[5,3],[1,0],[5,3],[1,0],[5,3],[1,0]]}, "legend": null}
    }},
   {"mark": {"type": "point", "filled": true, "opacity": 1, "size": 28},
    "encoding": {
     "x": {"field": "month", "type": "ordinal", "sort": ["January","February","March","April","May","June"]},
     "y": {"field": "value", "type": "quantitative"},
     "color": {"field": "series", "type": "nominal", "legend": null},
     "shape": {"field": "series", "type": "nominal", "scale": {"domain": ["Recent imm. - unemployed or not in labour force","Dom./est. Imm. - unemployed or not in labour force","Recent imm. - employed, at work","Dom./est. Imm. - employed, at work","Recent imm. - absent (paid)","Dom./est. Imm. - absent (paid)","Recent imm. - absent (unpaid) or other","Dom./est. Imm. - absent (unpaid) or other"], "range": ["triangle-up","triangle-up","square","square","M-1,-0.7L-0.7,-1L0,-0.3L0.7,-1L1,-0.7L0.3,0L1,0.7L0.7,1L0,0.3L-0.7,1L-1,0.7L-0.3,0Z","M-1,-0.7L-0.7,-1L0,-0.3L0.7,-1L1,-0.7L0.3,0L1,0.7L0.7,1L0,0.3L-0.7,1L-1,0.7L-0.3,0Z","circle","circle"]}, "legend": null}
    }}
  ]}
 ],
 "spacing": 60,
 "resolve": {"scale": {"x": "independent", "y": "independent", "color": "independent", "strokeDash": "independent", "shape": "independent"}, "legend": {"color": "independent"}}
}
]
}
